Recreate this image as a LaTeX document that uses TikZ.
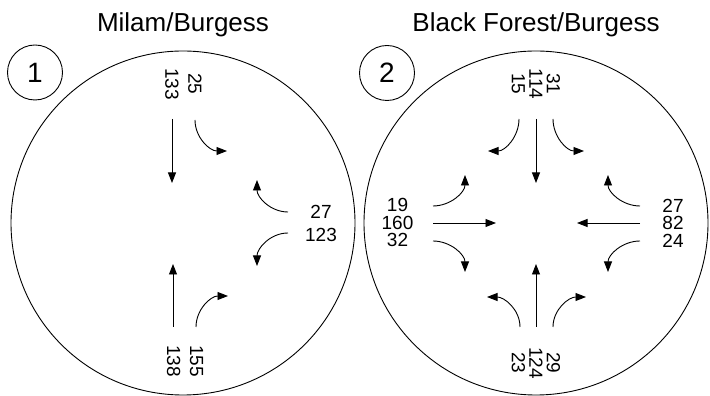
\documentclass[tikz,border=0pt]{standalone}
\usepackage{fontspec}
\setmainfont{Liberation Sans}
\usetikzlibrary{arrows.meta}

\tikzset{
  flow/.style = {-{Triangle[length=10.5pt, width=8pt]}, line width = 0.9pt},
  vol/.style = {inner sep = 0pt, align = center, font = \fontsize{19}{17.5}\selectfont},
  wide vol/.style = {vol, font = \fontsize{19}{23}\selectfont},
  title/.style = {anchor = base, inner sep = 0pt, font = \fontsize{26}{30}\selectfont},
  tag/.style = {circle, draw, line width = 0.9pt, minimum size = 55pt, inner sep = 0pt, font = \fontsize{28}{30}\selectfont}
}

\begin{document}
\begin{tikzpicture}[x = 1pt, y = 1pt]
	\useasboundingbox (0, 0) rectangle (710, 396);
	% titles and tags
	\node[title] (t1) at (183, 364) {Milam/Burgess};
	\node[title] (t2) at (536, 364) {Black Forest/Burgess};
	\node[tag] (n1) at (35, 323.5) {1};
	\node[tag] (n2) at (387, 323) {2};

	% intersection 1
	\begin{scope}[shift = {(183, 173)}]
		\draw[line width = 0.9pt] (0, 0) circle (172);
		\draw[flow] (-11, 104)--(-11, 40);
		\draw[flow] (12, 103) to[out = -90, in = 180] (44, 72);
		\draw[flow] (105, 11) to[out = 180, in = -90] (74, 43);
		\draw[flow] (105, -10) to[out = 180, in = 90] (74, -43);
		\draw[flow] (-10, -104)--(-10, -41);
		\draw[flow] (13, -104) to[out = 90, in = 180] (45, -73);
		\node[wide vol, rotate = -90] (a1) at (0.5, 139) {25\\133};
		\node[wide vol] (a2) at (138, -0.5) {27\\123};
		\node[wide vol, rotate = -90] (a3) at (2, -138) {155\\138};
	\end{scope}

	% intersection 2
	\begin{scope}[shift = {(536, 173)}]
		\draw[line width = 0.9pt] (0, 0) circle (172);
		% from north
		\draw[flow] (0, 104)--(0, 40);
		\draw[flow] (-17, 104) to[out = -90, in = 0] (-48, 72);
		\draw[flow] (17, 104) to[out = -90, in = 180] (48, 72);
		% from west
		\draw[flow] (-103, 0)--(-40, 0);
		\draw[flow] (-103, 17) to[out = 0, in = -90] (-71, 48);
		\draw[flow] (-103, -18) to[out = 0, in = 90] (-71, -49);
		% from east
		\draw[flow] (104, 0)--(41, 0);
		\draw[flow] (104, 17) to[out = 180, in = -90] (72, 48);
		\draw[flow] (104, -18) to[out = 180, in = 90] (72, -49);
		% from south
		\draw[flow] (0, -104)--(0, -41);
		\draw[flow] (-16, -104) to[out = 90, in = 0] (-49, -74);
		\draw[flow] (17, -104) to[out = 90, in = 180] (50, -74);
		\node[vol, rotate = -90] (b1) at (0, 139) {31\\114\\15};
		\node[vol] (b2) at (-138.5, 0.5) {19\\160\\32};
		\node[vol] (b3) at (137, 0) {27\\82\\24};
		\node[vol, rotate = -90] (b4) at (0, -140) {29\\124\\23};
	\end{scope}
\end{tikzpicture}
\end{document}
